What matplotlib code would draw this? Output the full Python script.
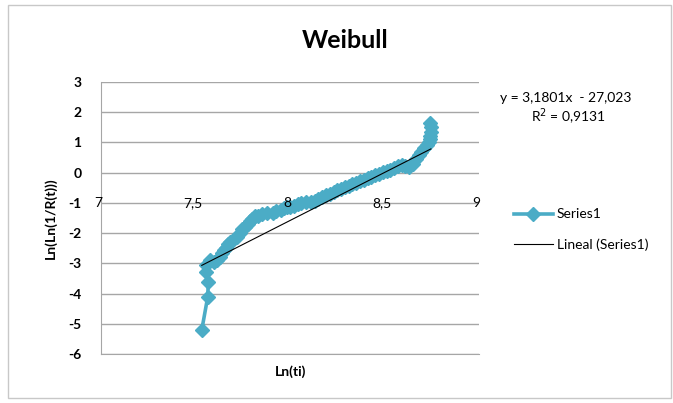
import matplotlib.pyplot as plt
from matplotlib.lines import Line2D
from matplotlib.patches import Rectangle

# Weibull plot data: Ln(ti) and Ln(Ln(1/R(t)))
ln_t = [7.533, 7.564, 7.568, 7.554, 7.556, 7.575, 7.600, 7.612, 7.630, 7.640,
        7.650, 7.660, 7.672, 7.680, 7.700, 7.720, 7.735, 7.745, 7.760, 7.775,
        7.790, 7.800, 7.815, 7.830, 7.850, 7.880, 7.910, 7.925, 7.950, 7.970,
        7.985, 8.000, 8.020, 8.040, 8.060, 8.085, 8.110, 8.130, 8.150, 8.170,
        8.190, 8.210, 8.230, 8.250, 8.270, 8.290, 8.310, 8.330, 8.350, 8.370,
        8.390, 8.410, 8.430, 8.450, 8.470, 8.490, 8.510, 8.530, 8.550, 8.570,
        8.590, 8.610, 8.630, 8.650, 8.665, 8.680, 8.695, 8.710, 8.725, 8.735,
        8.740, 8.742, 8.744, 8.745, 8.740]
lnln = [-5.21, -4.13, -3.63, -3.28, -3.05, -2.90, -2.95, -2.90, -2.78, -2.66,
        -2.57, -2.48, -2.36, -2.30, -2.22, -2.12, -1.98, -1.88, -1.80, -1.70,
        -1.60, -1.52, -1.45, -1.42, -1.38, -1.35, -1.32, -1.28, -1.22, -1.17,
        -1.14, -1.12, -1.10, -1.04, -1.00, -0.98, -0.96, -0.93, -0.86, -0.80,
        -0.74, -0.69, -0.64, -0.58, -0.53, -0.48, -0.43, -0.38, -0.33, -0.29,
        -0.23, -0.19, -0.14, -0.09, -0.04, 0.01, 0.05, 0.10, 0.16, 0.22,
        0.25, 0.22, 0.20, 0.30, 0.45, 0.58, 0.70, 0.82, 0.92, 1.00,
        1.10, 1.22, 1.35, 1.50, 1.66]

# linear trendline coefficients
slope = 3.1801
intercept = -27.023
r2 = 0.9131

x_ticks = [7, 7.5, 8, 8.5, 9]
x_tick_labels = ['7', '7,5', '8', '8,5', '9']
y_ticks = [3, 2, 1, 0, -1, -2, -3, -4, -5, -6]

plt.rcParams['font.family'] = ['Lato', 'DejaVu Sans']
blue = '#4BACC6'
grid_col = '#A6A6A6'

fig = plt.figure(figsize=(6.73, 4.03), dpi=100)
ax = fig.add_axes([0.150, 0.1216, 0.562, 0.6749])

# outer chart border
fig.patches.append(Rectangle((0.012, 0.012), 0.985, 0.975, transform=fig.transFigure,
                             fill=False, edgecolor='#C8C8C8', linewidth=1))

ax.plot(ln_t, lnln, color=blue, linewidth=2.6, marker='D', markersize=7,
        markeredgecolor=blue, zorder=3)

x_min, x_max = min(ln_t), max(ln_t)
ax.plot([x_min, x_max], [slope * x_min + intercept, slope * x_max + intercept],
        color='black', linewidth=0.8, zorder=4)

ax.set_xlim(7, 9)
ax.set_ylim(-6, 3)
ax.set_yticks(y_ticks)
ax.set_yticklabels([str(v) for v in y_ticks])
ax.set_xticks([])
ax.tick_params(axis='y', length=0, pad=14, labelsize=10)
for lab in ax.get_yticklabels():
    lab.set_fontweight('bold')
ax.grid(axis='y', color=grid_col, linewidth=1)
ax.set_axisbelow(True)
for side in ['top', 'right']:
    ax.spines[side].set_visible(False)
ax.spines['left'].set_color(grid_col)
ax.spines['bottom'].set_color(grid_col)

# x labels sit on the y = -1 line, drawn above the series
for v, s in zip(x_ticks, x_tick_labels):
    ax.text(v - 0.015, -1, s, ha='center', va='center', fontsize=10, zorder=6)

ax.set_xlabel('Ln(ti)', fontsize=10, fontweight='bold', labelpad=8)
ax.set_ylabel('Ln(Ln(1/R(t)))', fontsize=10, fontweight='bold', labelpad=8)

fig.text(0.513, 0.90, 'Weibull', ha='center', va='center', fontsize=18, fontweight='bold')

eq = 'y = 3,1801x  - 27,023'
fig.text(0.743, 0.757, eq, ha='left', va='center', fontsize=10)
fig.text(0.845, 0.709, 'R$^2$ = 0,9131', ha='center', va='center', fontsize=10)

handles = [Line2D([], [], color=blue, linewidth=2.6, marker='D', markersize=7),
           Line2D([], [], color='black', linewidth=0.8)]
fig.legend(handles, ['Series1', 'Lineal (Series1)'], loc='center left',
           bbox_to_anchor=(0.745, 0.43), frameon=False, fontsize=10,
           handlelength=2.8, labelspacing=1.3, handletextpad=0.3)

plt.savefig('out.png', dpi=100)
